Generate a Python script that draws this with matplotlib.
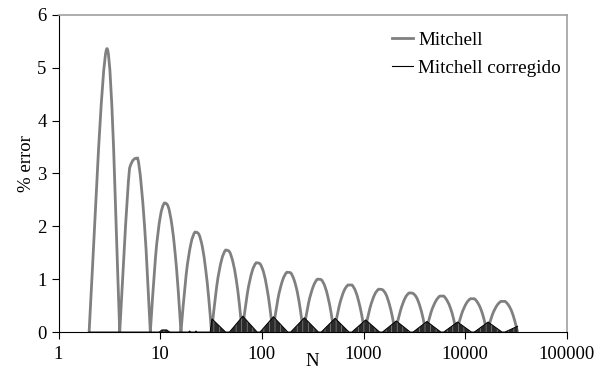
import matplotlib
matplotlib.use("Agg")
import matplotlib.pyplot as plt
import numpy as np
from matplotlib.path import Path
from matplotlib.patches import PathPatch
from matplotlib.lines import Line2D

plt.rcParams['font.family'] = ['Liberation Serif', 'DejaVu Serif']
plt.rcParams['hatch.linewidth'] = 0.5

# Mitchell: % error, samples per octave
mitchell_n = [2, 3,
              4, 5, 6, 7,
              8, 9, 10, 11, 12, 13, 14, 15,
              16, 18, 20, 22, 24, 26, 28, 30,
              32, 36, 40, 44, 48, 52, 56, 60,
              64, 72, 80, 88, 96, 104, 112, 120,
              128, 144, 160, 176, 192, 208, 224, 240,
              256, 288, 320, 352, 384, 416, 448, 480,
              512, 576, 640, 704, 768, 832, 896, 960,
              1024, 1152, 1280, 1408, 1536, 1664, 1792, 1920,
              2048, 2304, 2560, 2816, 3072, 3328, 3584, 3840,
              4096, 4608, 5120, 5632, 6144, 6656, 7168, 7680,
              8192, 9216, 10240, 11264, 12288, 13312, 14336, 15360,
              16384, 18432, 20480, 22528, 24576, 26624, 28672, 30720,
              32767]
mitchell_err = [0, 5.36,
                0, 3.10, 3.29, 2.04,
                0, 1.42, 2.17, 2.44, 2.37, 2.04, 1.51, 0.82,
                0, 1.08, 1.66, 1.89, 1.85, 1.61, 1.19, 0.65,
                0, 0.87, 1.35, 1.55, 1.52, 1.32, 0.99, 0.54,
                0, 0.73, 1.14, 1.31, 1.29, 1.13, 0.84, 0.46,
                0, 0.63, 0.98, 1.13, 1.12, 0.98, 0.74, 0.40,
                0, 0.55, 0.86, 1.00, 0.99, 0.87, 0.65, 0.36,
                0, 0.49, 0.77, 0.89, 0.89, 0.78, 0.58, 0.32,
                0, 0.44, 0.70, 0.81, 0.80, 0.71, 0.53, 0.29,
                0, 0.40, 0.64, 0.74, 0.73, 0.65, 0.49, 0.27,
                0, 0.37, 0.58, 0.68, 0.68, 0.59, 0.45, 0.25,
                0, 0.34, 0.54, 0.63, 0.63, 0.55, 0.42, 0.23,
                0, 0.32, 0.50, 0.58, 0.58, 0.51, 0.39, 0.21,
                0]

# Mitchell corregido: upper envelope of the dense oscillation
corr_n = [2, 9.8, 10.4, 11.6, 12.4, 19, 19.5, 20, 22, 22.5, 23,
          31, 32.3, 44,
          48, 65, 90,
          96, 130, 180,
          192, 262, 360,
          384, 525, 720,
          768, 1050, 1440,
          1536, 2100, 2880,
          3072, 4200, 5760,
          6144, 8400, 11520,
          12288, 16800, 23040,
          24576, 32767]
corr_err = [0, 0, 0.04, 0.04, 0, 0, 0.02, 0, 0, 0.02, 0,
            0, 0.25, 0,
            0, 0.30, 0,
            0, 0.29, 0,
            0, 0.27, 0,
            0, 0.26, 0,
            0, 0.23, 0,
            0, 0.21, 0,
            0, 0.20, 0,
            0, 0.19, 0,
            0, 0.19, 0,
            0, 0.11]

xticks = [1, 10, 100, 1000, 10000, 100000]
yticks = [0, 1, 2, 3, 4, 5, 6]


def smooth_path(xs, ys):
    # smoothed line like the spreadsheet one, bent in log-x space,
    # sharp corner where the curve touches zero, no overshoot
    u = np.log10(np.asarray(xs, float))
    v = np.asarray(ys, float)
    pts = np.column_stack([u, v])
    n = len(pts)
    verts = [pts[0]]
    codes = [Path.MOVETO]
    for i in range(n - 1):
        p1, p2 = pts[i], pts[i + 1]
        p0 = pts[i - 1] if (i > 0 and v[i] != 0) else p1
        p3 = pts[i + 2] if (i + 2 < n and v[i + 1] != 0) else p2
        c1 = p1 + (p2 - p0) / 6
        c2 = p2 - (p3 - p1) / 6
        lo, hi = min(p1[1], p2[1]), max(p1[1], p2[1])
        c1[1] = np.clip(c1[1], lo, hi)
        c2[1] = np.clip(c2[1], lo, hi)
        verts += [c1, c2, p2]
        codes += [Path.CURVE4] * 3
    verts = np.array(verts)
    verts[:, 0] = 10 ** verts[:, 0]
    return Path(verts, codes)


fig = plt.figure(figsize=(6.05, 3.71), dpi=100)
ax = fig.add_axes([0.0967, 0.105, 0.8403, 0.855])

ax.set_xscale('log')
ax.set_xlim(1, 100000)
ax.set_ylim(0, 6)

ax.add_patch(PathPatch(smooth_path(mitchell_n, mitchell_err), fill=False,
                       edgecolor='#808080', lw=2.0, zorder=2))
ax.fill_between(corr_n, 0, corr_err, facecolor='#2a2a2a', edgecolor='#8a8a8a',
                hatch='|||', lw=0, zorder=3)
ax.plot(corr_n, corr_err, color='black', lw=0.7, zorder=3)

ax.set_xticks(xticks)
ax.set_xticklabels([str(v) for v in xticks])
ax.minorticks_off()
ax.set_yticks(yticks)
ax.tick_params(axis='both', direction='out', length=5, width=0.8, labelsize=13.5, colors='black')
ax.tick_params(axis='x', pad=5)

for s in ['top', 'right']:
    ax.spines[s].set_color('#a0a0a0')
    ax.spines[s].set_linewidth(1.2)
for s in ['left', 'bottom']:
    ax.spines[s].set_color('black')
    ax.spines[s].set_linewidth(0.8)

ax.set_xlabel('N', fontsize=13.5, labelpad=-7)
ax.set_ylabel('% error', fontsize=13.5)
ax.yaxis.set_label_coords(-0.046, 0.53)

handles = [Line2D([], [], color='#808080', lw=2.0),
           Line2D([], [], color='black', lw=0.8)]
ax.legend(handles, ['Mitchell', 'Mitchell corregido'], loc='upper right',
          bbox_to_anchor=(1.015, 0.99), frameon=False, fontsize=13.8,
          handlelength=1.1, handletextpad=0.3, labelspacing=0.55, borderaxespad=0.3)

fig.savefig('out.png', dpi=100)
